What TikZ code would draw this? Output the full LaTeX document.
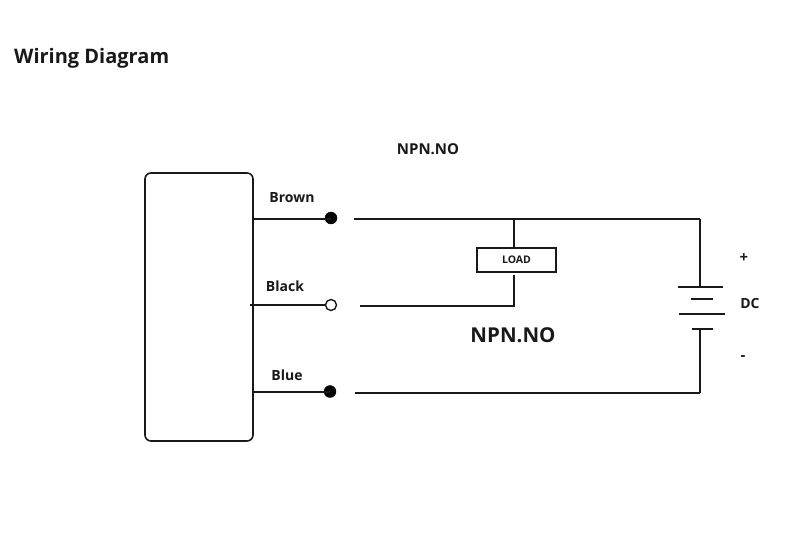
\documentclass[tikz,border=0pt]{standalone}
\usepackage{fontspec}
\setmainfont{Open Sans}
\tikzset{
  wire/.style={draw=black!90,line width=1.7pt},
  thin wire/.style={draw=black!90,line width=1.3pt},
  lbl/.style={inner sep=0pt,font=\bfseries\fontsize{14}{16}\selectfont,text=black!90},
  sensorbox/.style={draw=black!90,line width=1.6pt,rounded corners=6pt,minimum width=108pt,minimum height=268pt,inner sep=0pt},
  loadbox/.style={draw=black!90,line width=1.6pt,minimum width=79pt,minimum height=24pt,inner sep=0pt,font=\bfseries\fontsize{10.5}{12}\selectfont,text=black!90},
  solidterm/.style={circle,fill=black,draw=black,minimum size=12pt,inner sep=0pt},
  openterm/.style={circle,fill=white,draw=black!90,line width=1.4pt,minimum size=11pt,inner sep=0pt},
}
\begin{document}
\begin{tikzpicture}[x=1pt,y=-1pt]
\useasboundingbox (0,0) rectangle (800,533);
\fill[white] (0,0) rectangle (800,533);
\node[lbl,font=\bfseries\fontsize{20}{24}\selectfont,anchor=west] (title) at (14,58) {Wiring Diagram};
\node[lbl,font=\bfseries\fontsize{15}{18}\selectfont] (top) at (428,149.5) {NPN.NO};
\node[sensorbox] (sensor) at (199,307) {};
\coordinate (bw) at (253,219);
\coordinate (kw) at (250,305);
\coordinate (uw) at (253,392);
\node[solidterm] (bt) at (331,218) {};
\node[openterm] (kt) at (331,305) {};
\node[solidterm] (ut) at (330,391.5) {};
\node[lbl] (brown) at (292,198) {Brown};
\node[lbl] (black) at (285,286) {Black};
\node[lbl] (blue) at (287,375.5) {Blue};
\draw[wire] (bw) -- (bw -| bt);
\draw[thin wire] (kw) -- (kt);
\draw[wire] (uw) -- (uw -| ut);
\coordinate (br) at (354,219);
\coordinate (kr) at (360,306);
\coordinate (ur) at (355,393);
\coordinate (tj) at (514,219);
\coordinate (tr) at (700,219);
\coordinate (br2) at (700,393);
\node[loadbox] (load) at (516.5,260) {LOAD};
\coordinate (loadin) at (514,248);
\coordinate (loadout) at (514,275);
\coordinate (kc) at (514,306);
\draw[wire] (br) -- (tr);
\draw[wire] (tj) -- (loadin);
\draw[wire] (kr) -- (kc) -- (loadout);
\draw[wire] (ur) -- (br2);
\coordinate (p1l) at (678,287); \coordinate (p1r) at (723,287);
\coordinate (p2l) at (691,299); \coordinate (p2r) at (713,299);
\coordinate (p3l) at (678.5,314); \coordinate (p3r) at (725,314);
\coordinate (p4l) at (692,329); \coordinate (p4r) at (713,329);
\coordinate (p1m) at (700,287); \coordinate (p4m) at (700,329);
\draw[wire] (tr) -- (p1m);
\draw[wire] (p4m) -- (br2);
\draw[wire] (p1l) -- (p1r);
\draw[wire] (p2l) -- (p2r);
\draw[wire] (p3l) -- (p3r);
\draw[wire] (p4l) -- (p4r);
\node[lbl,font=\bfseries\fontsize{20.5}{24}\selectfont] (big) at (513,335) {NPN.NO};
\node[lbl,font=\bfseries\fontsize{15}{18}\selectfont] (plus) at (744,258.5) {+};
\node[lbl] (dc) at (750,303) {DC};
\node[lbl,font=\bfseries\fontsize{15}{18}\selectfont] (minus) at (743,358) {-};
\end{tikzpicture}
\end{document}
